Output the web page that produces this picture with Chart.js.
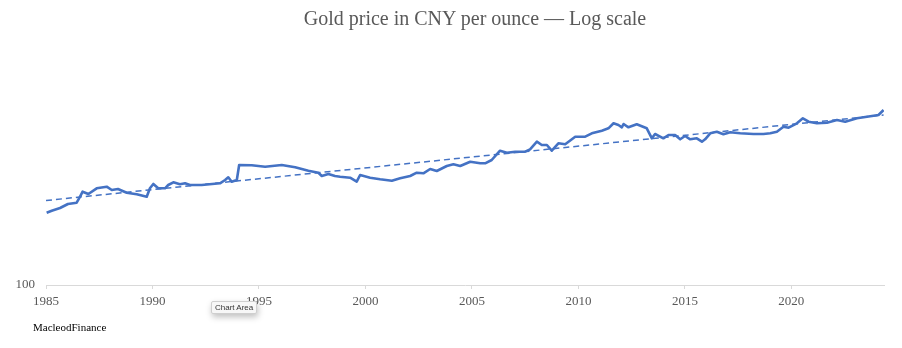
<!DOCTYPE html>
<html>
<head>
<meta charset="utf-8">
<script src="https://cdn.jsdelivr.net/npm/chart.js@4/dist/chart.umd.min.js"></script>
<style>
  body { margin: 0; background: #fff; }
  #wrap { position: relative; width: 902px; height: 348px; }
  #title { position: absolute; left: 475px; top: 7px; transform: translateX(-50%); white-space: nowrap;
           font: 20px 'Liberation Serif', serif; color: #595959; }
  #credit { position: absolute; left: 33px; top: 321px; font: 11px 'Liberation Serif', serif; color: #000; }
  #tip { position: absolute; left: 211px; top: 301px; padding: 1px 3px; font: 8px 'Liberation Sans', sans-serif; color: #333;
         background: #f7f7f7; border: 1px solid #cfcfcf; border-radius: 2px; box-shadow: 1px 3px 6px rgba(0,0,0,0.25); }
</style>
</head>
<body>
<div id="wrap">
  <canvas id="goldChart" width="902" height="348"></canvas>
  <div id="title">Gold price in CNY per ounce — Log scale</div>
  <div id="credit">MacleodFinance</div>
  <div id="tip">Chart Area</div>
</div>
<script>
// gold price in CNY per ounce
const goldYears = [
  1985.03, 1985.27, 1985.66, 1986.03, 1986.44, 1986.60, 1986.72, 1986.99, 1987.38, 1987.85,
  1988.09, 1988.38, 1988.79, 1989.26, 1989.73, 1989.88, 1990.04, 1990.27, 1990.59, 1990.74,
  1990.98, 1991.29, 1991.53, 1991.76, 1992.31, 1993.17, 1993.41, 1993.56, 1993.72, 1993.96,
  1994.07, 1994.66, 1995.29, 1996.07, 1996.70, 1997.32, 1997.79, 1997.95, 1998.26, 1998.57,
  1998.81, 1999.28, 1999.59, 1999.75, 2000.22, 2000.69, 2001.24, 2001.63, 2002.10, 2002.41,
  2002.72, 2003.04, 2003.35, 2003.82, 2004.13, 2004.45, 2004.92, 2005.39, 2005.62, 2005.93,
  2006.32, 2006.64, 2007.03, 2007.50, 2007.73, 2008.05, 2008.28, 2008.52, 2008.75, 2009.06,
  2009.38, 2009.85, 2010.32, 2010.63, 2011.10, 2011.41, 2011.65, 2011.88, 2012.04, 2012.12,
  2012.35, 2012.74, 2013.21, 2013.45, 2013.60, 2013.99, 2014.23, 2014.54, 2014.78, 2015.01,
  2015.25, 2015.56, 2015.80, 2015.95, 2016.19, 2016.50, 2016.81, 2017.13, 2017.60, 2018.22,
  2018.69, 2019.01, 2019.32, 2019.63, 2019.87, 2020.26, 2020.54, 2020.81, 2021.20, 2021.67,
  2022.14, 2022.53, 2023.08, 2023.55, 2024.09, 2024.33
];
const goldValues = [
  823, 872, 943, 1060, 1101, 1311, 1517, 1419, 1675, 1755,
  1594, 1641, 1474, 1407, 1311, 1675, 1899, 1675, 1675, 1845,
  1995, 1882, 1938, 1845, 1845, 1938, 2134, 2309, 2031, 2134,
  3304, 3275, 3144, 3304, 3090, 2798, 2640, 2398, 2542, 2398,
  2349, 2282, 2031, 2469, 2282, 2178, 2091, 2242, 2398, 2640,
  2594, 2940, 2773, 3209, 3371, 3209, 3638, 3472, 3472, 3822,
  5012, 4728, 4868, 4868, 5221, 6516, 5918, 5918, 5012, 6219,
  6040, 7542, 7542, 8324, 8978, 9627, 11140, 10600, 9913, 10910,
  9913, 10820, 9627, 7194, 8155, 7194, 7920, 7920, 6988, 7693,
  6988, 7194, 6516, 6988, 8324, 8720, 8084, 8570, 8324, 8155,
  8155, 8324, 8720, 10090, 9797, 11140, 12890, 11670, 11140, 11330,
  12270, 11670, 12890, 13500, 14190, 16410
];

// exponential trend (straight on the log axis)
const trendYears  = [1985, 2024.33];
const trendValues = [1174, 14190];

const yearTicks = [1985, 1990, 1995, 2000, 2005, 2010, 2015, 2020];
const shownYLabels = [100];

const serif = "'Liberation Serif', 'DejaVu Serif', serif";

const ctx = document.getElementById('goldChart').getContext('2d');
new Chart(ctx, {
  type: 'line',
  data: {
    datasets: [
      {
        label: 'Gold CNY',
        data: goldYears.map((x, i) => ({ x: x, y: goldValues[i] })),
        borderColor: '#4472C4',
        borderWidth: 2.6,
        pointRadius: 0,
        tension: 0,
        borderJoinStyle: 'round'
      },
      {
        label: 'Trend',
        data: trendYears.map((x, i) => ({ x: x, y: trendValues[i] })),
        borderColor: '#4472C4',
        borderWidth: 1.5,
        borderDash: [6, 4],
        pointRadius: 0
      }
    ]
  },
  options: {
    responsive: false,
    animation: false,
    layout: { padding: { left: 0, right: 18, top: 48, bottom: 0 } },
    plugins: {
      legend: { display: false },
      tooltip: { enabled: false },
      title: { display: false }
    },
    scales: {
      x: {
        type: 'linear',
        min: 1985,
        max: 2024.35,
        afterBuildTicks: (scale) => { scale.ticks = yearTicks.map(v => ({ value: v })); },
        afterFit: (scale) => { scale.height = 63; },
        ticks: {
          callback: (v) => String(v),
          color: '#595959',
          font: { family: serif, size: 13 },
          padding: 5,
          maxRotation: 0,
          autoSkip: false
        },
        grid: { drawOnChartArea: false, tickLength: 4, color: '#d9d9d9' },
        border: { color: '#d9d9d9' }
      },
      y: {
        type: 'logarithmic',
        min: 100,
        max: 100000,
        afterFit: (scale) => { scale.width = 46; },
        ticks: {
          callback: (v) => shownYLabels.includes(v) ? String(v) : '',
          color: '#595959',
          font: { family: serif, size: 13 },
          padding: 3,
          autoSkip: false
        },
        grid: { display: false },
        border: { display: false }
      }
    }
  }
});
</script>
</body>
</html>
